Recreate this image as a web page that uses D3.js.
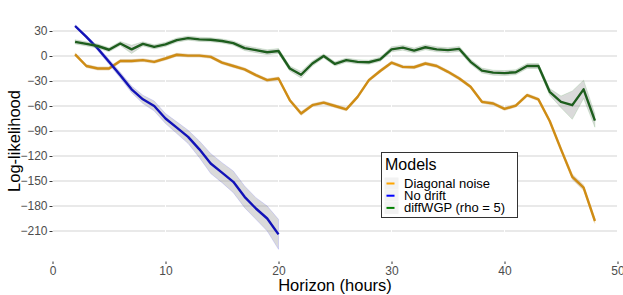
<!DOCTYPE html>
<html>
<head>
<meta charset="utf-8">
<script src="https://cdn.jsdelivr.net/npm/d3@7"></script>
<style>
  body { margin: 0; background: #fff; }
  svg { font-family: "Liberation Sans", Arial, sans-serif; display: block; }
</style>
</head>
<body>
<div id="chart"></div>
<script>

// hours on the horizon axis
var hoursLong = [2, 3, 4, 5, 6, 7, 8, 9, 10, 11, 12, 13, 14, 15, 16, 17, 18, 19, 20,
                 21, 22, 23, 24, 25, 26, 27, 28, 29, 30, 31, 32, 33, 34, 35, 36, 37, 38,
                 39, 40, 41, 42, 43, 44, 45, 46, 47, 48];
var hoursShort = [2, 3, 4, 5, 6, 7, 8, 9, 10, 11, 12, 13, 14, 15, 16, 17, 18, 19, 20];

// mean log-likelihood per model
var diagonalNoise = [2, -12, -15, -15, -6, -6, -5, -7, -3, 1.5, 0.5, 0.5, -1, -8, -12, -16, -23, -29, -27,
                     -53, -69, -59, -56, -60, -64, -49, -29, -18, -8, -13, -13.5, -9, -12, -19, -27, -37, -55,
                     -57, -63.5, -59.5, -47, -52, -78, -112, -145, -158, -198];
var noDrift = [36, 23, 9, -7, -23, -40, -52, -60, -75, -86, -97, -112, -129, -140, -151, -169, -183, -195, -214];
var diffWGP = [17, 14.5, 12, 7.5, 15, 8, 14.5, 11, 14, 19, 21.5, 20, 19.5, 18, 15.5, 9.5, 7, 4.5, 6,
               -15, -22.5, -9, 0, -9.5, -5, -7, -7.5, -4, 8, 10, 6.5, 10.5, 8, 7, 8.5, -7, -17.5,
               -20, -20.5, -19.5, -12, -12, -43, -55, -59, -40, -77.5];

// half width of the shaded band
var diagonalBand = [2, 2, 2, 2, 2, 2, 2, 2, 2, 2, 2, 2, 2, 2, 2, 2, 2, 2, 2,
                    2, 2.5, 2, 2, 2, 2, 2, 2, 2, 2, 2, 2, 2, 2, 2, 2, 2, 2,
                    2, 2, 2, 2, 2, 2.5, 3, 3.5, 3.5, 3];
var noDriftBand = [1.5, 2, 2.5, 3, 3.5, 4, 5, 6, 6, 7, 8, 10, 12, 12, 13, 13, 13, 15, 18];
var diffWGPBand = [2.5, 2.5, 2.5, 2.5, 2.5, 5, 2.5, 2.5, 2.5, 2.5, 2.5, 2.5, 2.5, 2.5, 2.5, 3, 3, 3, 3,
                   3, 4, 3, 2.5, 2.5, 2.5, 2.5, 2.5, 2.5, 3, 3, 3, 3, 3, 3, 3, 3, 3,
                   3, 3, 3, 3, 3, 4, 7, 17, 11, 8];

var xTicks = [0, 10, 20, 30, 40, 50];
var yTicks = [30, 0, -30, -60, -90, -120, -150, -180, -210];

var models = ["Diagonal noise", "No drift", "diffWGP (rho = 5)"];
var keyColors = ["#ffa500", "#0000ff", "#008000"];
var lineColors = ["#cf8c14", "#1212b8", "#1d5e1d"];

var series = [
  {name: models[0], hours: hoursLong, values: diagonalNoise, band: diagonalBand},
  {name: models[1], hours: hoursShort, values: noDrift, band: noDriftBand},
  {name: models[2], hours: hoursLong, values: diffWGP, band: diffWGPBand}
];

var lineChart = function() {

  var width = 623,
      height = 295;

  var x = d3.scaleLinear().domain([0, 50]).range([52.5, 617.5]),
      y = d3.scaleLinear().domain([30, -210]).range([31, 231]);

  function chart(selection) {
    selection.each(function(data) {
      var svg = d3.select(this).append('svg')
        .attr('width', width)
        .attr('height', height);

      // horizontal grid, then white vertical lines cut through it
      svg.append('g').selectAll('line')
        .data(yTicks).enter().append('line')
        .attr('x1', 52.5).attr('x2', 618)
        .attr('y1', function(d) { return y(d); })
        .attr('y2', function(d) { return y(d); })
        .attr('stroke', '#d4d4d4')
        .attr('stroke-width', 1.1);

      svg.append('g').selectAll('line')
        .data(xTicks).enter().append('line')
        .attr('x1', function(d) { return x(d); })
        .attr('x2', function(d) { return x(d); })
        .attr('y1', 20).attr('y2', 261)
        .attr('stroke', '#fff')
        .attr('stroke-width', 1);

      var area = d3.area()
        .x(function(d) { return x(d.h); })
        .y0(function(d) { return y(d.v - d.b); })
        .y1(function(d) { return y(d.v + d.b); });

      var line = d3.line()
        .x(function(d) { return x(d.h); })
        .y(function(d) { return y(d.v); });

      var groups = svg.append('g').selectAll('g')
        .data(data).enter().append('g');

      groups.each(function(s, i) {
        var pts = s.hours.map(function(h, j) {
          return {h: h, v: s.values[j], b: s.band[j]};
        });
        var g = d3.select(this);
        g.append('path')
          .attr('d', area(pts))
          .attr('fill', '#8c8c8c')
          .attr('fill-opacity', 0.32)
          .attr('stroke', keyColors[i])
          .attr('stroke-opacity', 0.12)
          .attr('stroke-width', 1);
        g.append('path')
          .attr('d', line(pts))
          .attr('fill', 'none')
          .attr('stroke', lineColors[i])
          .attr('stroke-width', 2.4)
          .attr('stroke-linejoin', 'round');
      });

      // axes
      var yAxis = svg.append('g')
        .attr('transform', 'translate(52.5,0)')
        .call(d3.axisLeft(y).tickValues(yTicks).tickSize(3).tickPadding(2));
      var xAxis = svg.append('g')
        .attr('transform', 'translate(0,261.5)')
        .call(d3.axisBottom(x).tickValues(xTicks).tickSize(2.5).tickPadding(2));

      [xAxis, yAxis].forEach(function(a) {
        a.select('.domain').remove();
        a.selectAll('line').attr('stroke', '#333');
        a.selectAll('text')
          .attr('fill', '#4d4d4d')
          .style('font-size', '12px')
          .style('font-family', '"Liberation Sans", Arial, sans-serif');
      });

      svg.append('text')
        .attr('x', 335).attr('y', 291)
        .attr('text-anchor', 'middle')
        .style('font-size', '16.5px')
        .text('Horizon (hours)');

      svg.append('text')
        .attr('transform', 'translate(20,141) rotate(-90)')
        .attr('text-anchor', 'middle')
        .style('font-size', '16.5px')
        .text('Log-likelihood');

      svg.call(chart.legend);
    });
  }

  chart.legend = function(svg) {
    var lg = svg.append('g').attr('transform', 'translate(381.5,152.5)');

    lg.append('rect')
      .attr('width', 136)
      .attr('height', 65)
      .attr('fill', '#fff')
      .attr('stroke', '#333')
      .attr('stroke-width', 1);

    lg.append('text')
      .attr('x', 3.5).attr('y', 17)
      .style('font-size', '16px')
      .text('Models');

    var rows = lg.selectAll('.row')
      .data(models).enter().append('g')
      .attr('class', 'row')
      .attr('transform', function(d, i) { return 'translate(0,' + (25 + i * 12.2) + ')'; });

    rows.append('rect')
      .attr('x', 3).attr('y', 0)
      .attr('width', 14).attr('height', 12)
      .attr('fill', '#f2f2f2');

    rows.append('line')
      .attr('x1', 5).attr('x2', 13)
      .attr('y1', 6).attr('y2', 6)
      .attr('stroke', function(d, i) { return keyColors[i]; })
      .attr('stroke-width', 2);

    rows.append('text')
      .attr('x', 22.5).attr('y', 10.5)
      .style('font-size', '13px')
      .text(function(d) { return d; });
  };

  // Width Accessor
  chart.width = function(value) {
    if (!arguments.length) { return width; }
    width = value;
    return chart;
  };

  // Height Accessor
  chart.height = function(value) {
    if (!arguments.length) { return height; }
    height = value;
    return chart;
  };

  return chart;
};

d3.select('#chart').datum(series).call(lineChart());
</script>
</body>
</html>
